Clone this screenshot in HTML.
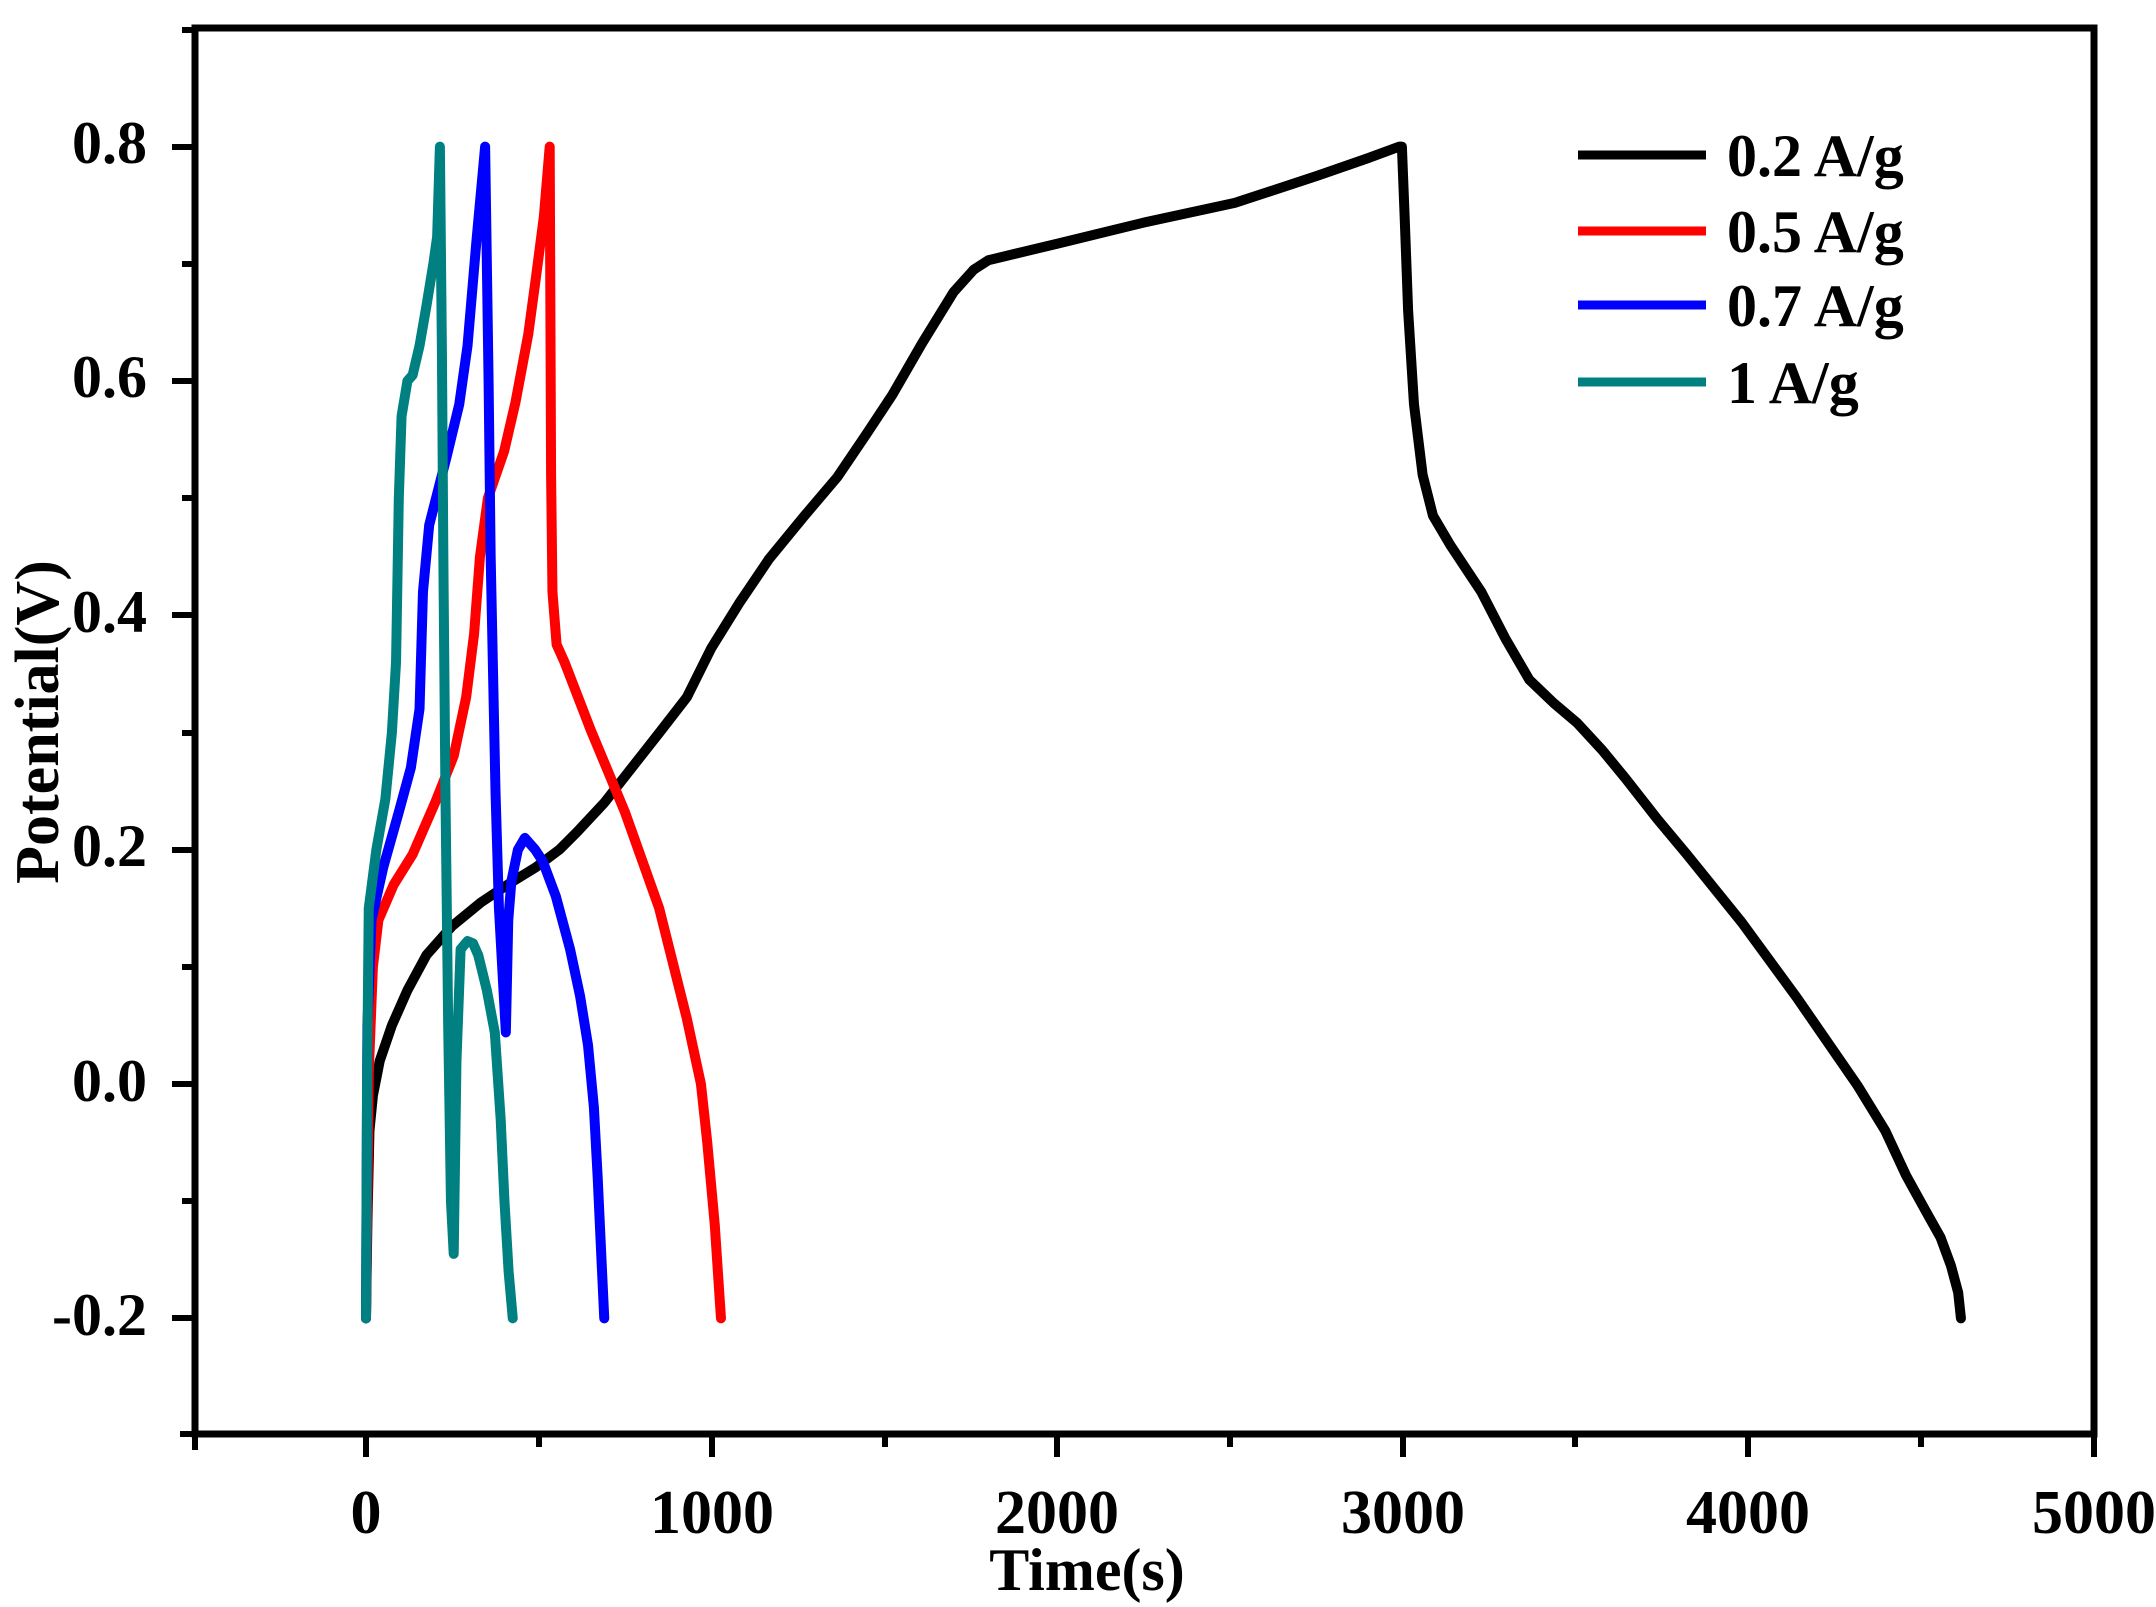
<!DOCTYPE html>
<html><head><meta charset="utf-8"><style>
html,body{margin:0;padding:0;background:#fff}
svg{display:block}
text{font-family:"Liberation Serif",serif;font-weight:bold;fill:#000}
</style></head><body>
<svg width="2156" height="1607" viewBox="0 0 2156 1607" xmlns="http://www.w3.org/2000/svg">
<rect width="2156" height="1607" fill="#fff"/>
<rect x="195" y="28" width="1899" height="1406" fill="none" stroke="#000" stroke-width="7"/>
<g stroke="#000" stroke-width="6">
<line x1="195" y1="1434" x2="195" y2="1450"/>
<line x1="366" y1="1434" x2="366" y2="1457"/>
<line x1="539" y1="1434" x2="539" y2="1447"/>
<line x1="712" y1="1434" x2="712" y2="1457"/>
<line x1="885" y1="1434" x2="885" y2="1447"/>
<line x1="1057" y1="1434" x2="1057" y2="1457"/>
<line x1="1230" y1="1434" x2="1230" y2="1447"/>
<line x1="1403" y1="1434" x2="1403" y2="1457"/>
<line x1="1575" y1="1434" x2="1575" y2="1447"/>
<line x1="1748" y1="1434" x2="1748" y2="1457"/>
<line x1="1921" y1="1434" x2="1921" y2="1447"/>
<line x1="2094" y1="1434" x2="2094" y2="1457"/>
<line x1="195" y1="1434" x2="180" y2="1434"/>
<line x1="195" y1="1318" x2="172" y2="1318"/>
<line x1="195" y1="1201" x2="182" y2="1201"/>
<line x1="195" y1="1084" x2="172" y2="1084"/>
<line x1="195" y1="967" x2="182" y2="967"/>
<line x1="195" y1="850" x2="172" y2="850"/>
<line x1="195" y1="733" x2="182" y2="733"/>
<line x1="195" y1="615" x2="172" y2="615"/>
<line x1="195" y1="498" x2="182" y2="498"/>
<line x1="195" y1="381" x2="172" y2="381"/>
<line x1="195" y1="264" x2="182" y2="264"/>
<line x1="195" y1="147" x2="172" y2="147"/>
<line x1="195" y1="30" x2="182" y2="30"/>
</g>
<g font-size="60" text-anchor="end">
<text x="147" y="163">0.8</text>
<text x="147" y="397">0.6</text>
<text x="147" y="632">0.4</text>
<text x="147" y="866">0.2</text>
<text x="147" y="1101">0.0</text>
<text x="147" y="1335">-0.2</text>
</g>
<g font-size="62" text-anchor="middle">
<text x="366" y="1533">0</text>
<text x="712" y="1533">1000</text>
<text x="1057" y="1533">2000</text>
<text x="1403" y="1533">3000</text>
<text x="1748" y="1533">4000</text>
<text x="2094" y="1533">5000</text>
<text x="1087" y="1590" font-size="60">Time(s)</text>
<text transform="translate(58,722) rotate(-90)" font-size="62">Potential(V)</text>
</g>
<g transform="translate(366,1084) scale(0.3453,-1171.7)" fill="none" stroke-linejoin="round" stroke-linecap="round">
<polyline vector-effect="non-scaling-stroke" stroke-width="10" stroke="#000" points="0,-0.2 4,-0.12 10,-0.04 20,-0.01 40,0.02 75,0.05 120,0.08 175,0.11 250,0.135 333,0.155 420,0.172 492,0.185 560,0.2 611,0.215 690,0.24 770,0.27 850,0.3 929,0.33 1000,0.372 1080,0.41 1167,0.448 1270,0.485 1365,0.518 1450,0.555 1524,0.588 1610,0.632 1702,0.676 1760,0.695 1802,0.703 1900,0.71 2000,0.717 2250,0.735 2516,0.752 2754,0.775 2900,0.79 2992,0.8 3000,0.8 3008,0.74 3018,0.66 3035,0.58 3060,0.52 3090,0.485 3140,0.46 3230,0.42 3300,0.38 3369,0.345 3440,0.325 3508,0.308 3580,0.285 3647,0.261 3740,0.226 3825,0.196 3984,0.138 4143,0.074 4321,-0.002 4400,-0.04 4460,-0.078 4520,-0.11 4560,-0.131 4590,-0.155 4611,-0.178 4619,-0.2"/>
<polyline vector-effect="non-scaling-stroke" stroke-width="10" stroke="#f00" points="0,-0.2 8,0.01 20,0.1 36,0.14 80,0.17 135,0.196 200,0.24 254,0.28 290,0.33 313,0.384 330,0.45 353,0.5 400,0.54 433,0.582 470,0.64 492,0.688 515,0.74 532,0.8 536,0.52 540,0.42 552,0.375 575,0.36 651,0.302 750,0.232 849,0.15 929,0.056 970,0.0 988,-0.049 1010,-0.12 1028,-0.2"/>
<polyline vector-effect="non-scaling-stroke" stroke-width="10" stroke="#00f" points="0,-0.2 4,0.05 16,0.14 50,0.185 95,0.232 130,0.27 155,0.32 165,0.42 183,0.477 234,0.536 270,0.58 294,0.63 320,0.72 345,0.8 355,0.6 361,0.45 375,0.25 385,0.15 405,0.044 412,0.14 421,0.173 440,0.2 460,0.21 490,0.2 512,0.19 550,0.16 591,0.115 620,0.075 643,0.033 660,-0.02 671,-0.08 682,-0.15 690,-0.2"/>
<polyline vector-effect="non-scaling-stroke" stroke-width="10" stroke="#008080" points="0,-0.2 3,0.0 8,0.15 30,0.2 56,0.243 75,0.3 87,0.36 95,0.5 103,0.57 120,0.6 135,0.605 155,0.63 175,0.664 195,0.7 206,0.723 214,0.8 220,0.62 224,0.45 230,0.25 238,0.05 246,-0.1 254,-0.145 262,0.02 274,0.115 294,0.122 310,0.12 325,0.11 350,0.08 373,0.044 390,-0.03 401,-0.1 413,-0.16 425,-0.2"/>
</g>
<g stroke-width="9">
<line x1="1578" y1="155" x2="1706" y2="155" stroke="#000"/>
<line x1="1578" y1="231" x2="1706" y2="231" stroke="#f00"/>
<line x1="1578" y1="305" x2="1706" y2="305" stroke="#00f"/>
<line x1="1578" y1="382" x2="1706" y2="382" stroke="#008080"/>
</g>
<g font-size="60">
<text x="1727" y="176">0.2 A/g</text>
<text x="1727" y="252">0.5 A/g</text>
<text x="1727" y="326">0.7 A/g</text>
<text x="1727" y="403">1 A/g</text>
</g>
</svg>
</body></html>
